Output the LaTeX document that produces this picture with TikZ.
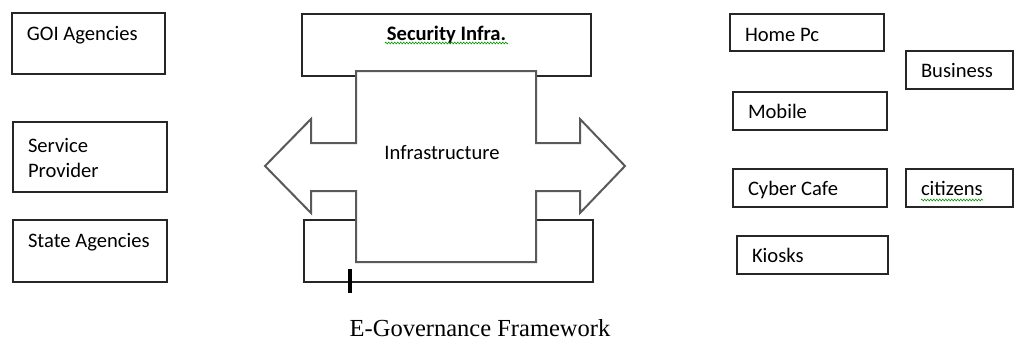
\documentclass[tikz,border=0pt]{standalone}
\usepackage{fontspec}
\setmainfont{Carlito}
\newfontfamily\capfont{Liberation Serif}
\usetikzlibrary{positioning,decorations.pathmorphing}

\begin{document}
\begin{tikzpicture}[
  x=1pt, y=-1pt,
  box/.style={draw=black!85, line width=1.4pt, anchor=north west, outer sep=0pt, inner xsep=15pt, inner ysep=0pt, align=flush left, font=\fontsize{20.6}{25}\selectfont},
  wide/.style={box, text width=124pt},
  narrow/.style={box, text width=77pt},
  bigarrow/.style={draw=black!65, line width=2pt, fill=white, line join=miter},
  spell/.style={draw=green!60!black, line width=0.6pt, decorate, decoration={zigzag, amplitude=0.9pt, segment length=3pt}},
  lab/.style={font=\fontsize{20.6}{25}\selectfont}
]
\useasboundingbox (0,0) rectangle (1014,341);

% Left column: agencies
\node[wide, text width=123pt, text height=27pt, text depth=34pt] (goi) at (12,13) {GOI Agencies};
\node[wide, text height=30pt, text depth=40pt] (provider) at (13,122) {Service\\Provider};
\node[wide, text height=27pt, text depth=35pt] (state) at (13,220) {State Agencies};

% Middle: security on top, base below
\node[box, text width=259pt, align=flush center, text height=26pt, text depth=36pt, font=\fontsize{20.6}{25}\selectfont\bfseries] (security) at (302,14) {Security Infra.};
\node[box, minimum width=289pt, minimum height=62pt] (base) at (304,220) {};

% double arrow over both boxes
\draw[bigarrow] (356,71) -- (536,71) -- (536,143) -- (580,143) -- (580,119) -- (625,166)
  -- (580,213) -- (580,191) -- (536,191) -- (536,262) -- (356,262) -- (356,191)
  -- (311,191) -- (311,213) -- (265,166) -- (311,119) -- (311,143) -- (356,143) -- cycle;
\node[lab, anchor=base] (infra) at (442,159) {Infrastructure};
\draw[line width=3.5pt] (350,269) -- (350,293);

% Right side: access points
\node[wide, text height=27pt, text depth=10pt] (homepc) at (730,14) {Home Pc};
\node[narrow, text height=26pt, text depth=12pt] (business) at (906,51) {Business};
\node[wide, text height=26pt, text depth=12pt] (mobile) at (733,92) {Mobile};
\node[wide, text height=26pt, text depth=12pt] (cafe) at (733,169) {Cyber Cafe};
\node[narrow, text height=26pt, text depth=12pt] (citizens) at (906,169) {citizens};
\node[wide, text width=121pt, text height=26pt, text depth=12pt] (kiosks) at (737,236) {Kiosks};

% spell marks
\draw[spell] (385,43) -- (508,43);
\draw[spell] (921,200) -- (983,200);

\node[anchor=base, font=\capfont\fontsize{24.5}{29}\selectfont] (title) at (480,336) {E-Governance Framework};
\end{tikzpicture}
\end{document}
